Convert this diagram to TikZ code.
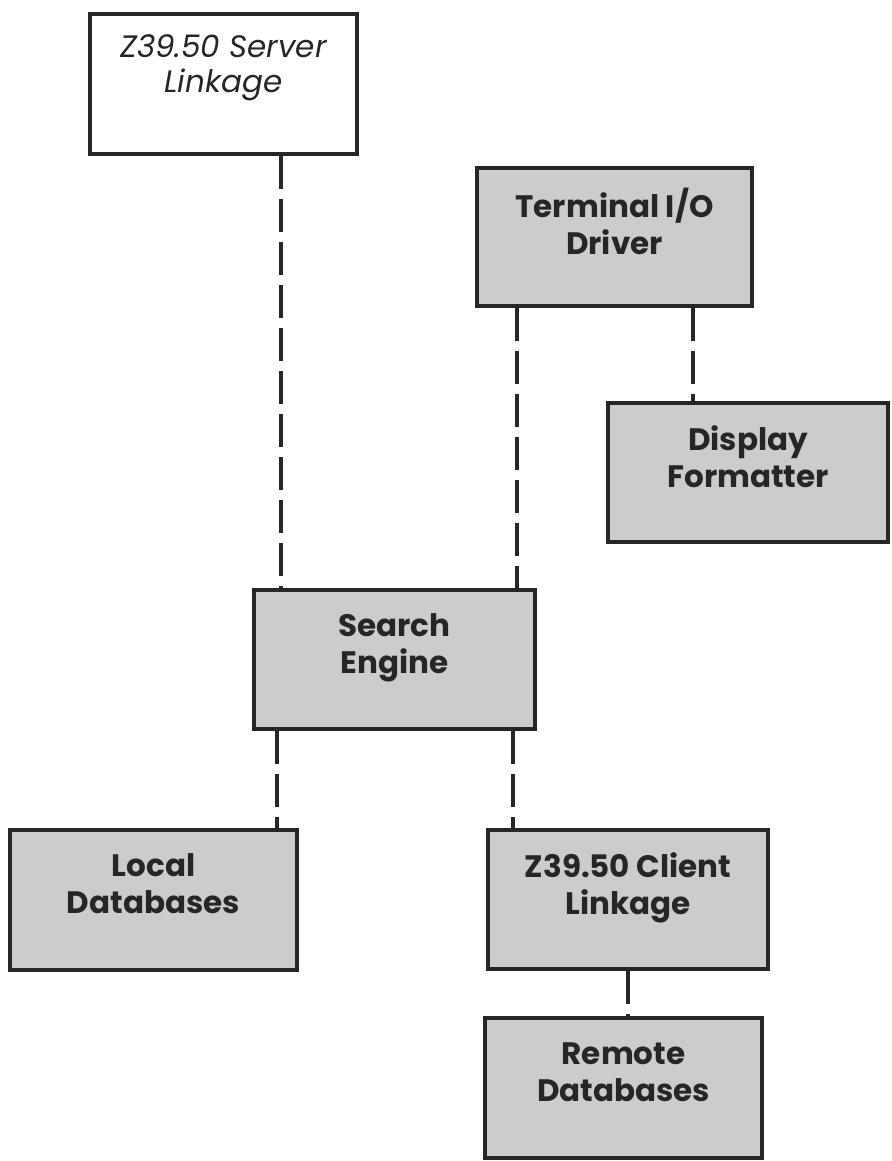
\documentclass[tikz,border=0pt]{standalone}
\usepackage{fontspec}
\setmainfont{Poppins}
\usepackage{tikz}
\pgfdeclarelayer{edgelayer}
\pgfdeclarelayer{nodelayer}
\pgfsetlayers{edgelayer,nodelayer,main}
\definecolor{ink}{gray}{0.15}
\definecolor{screen}{gray}{0.8}
\tikzstyle{none}=[inner sep=0pt]
\tikzstyle{module}=[rectangle, draw=ink, line width=3.5pt, text=ink, align=center, minimum width=275pt, minimum height=139pt, text depth=32pt]
\tikzstyle{plain module}=[module, fill=white, text depth=40pt, font=\itshape\fontsize{31}{35}\selectfont]
\tikzstyle{shaded module}=[module, fill=screen, font=\bfseries\fontsize{31}{37}\selectfont]
\tikzstyle{link}=[draw=ink, line width=3.5pt, dash pattern=on 33pt off 10pt]

\begin{document}
\begin{tikzpicture}[x=1pt, y=-1pt]
			\useasboundingbox (0, 0) rectangle (891, 1161);
			\begin{pgfonlayer}{nodelayer}
			\node [style=plain module, minimum width=267pt, minimum height=140pt] (0) at (223.5, 84) {Z39.50 Server\\Linkage};
			\node [style=shaded module, minimum height=138pt] (1) at (614.5, 237) {Terminal I/O\\Driver};
			\node [style=shaded module, minimum width=280pt] (2) at (748, 472.5) {Display\\Formatter};
			\node [style=shaded module, minimum width=281pt] (3) at (394.5, 659.5) {Search\\Engine};
			\node [style=shaded module, minimum width=287pt, minimum height=140pt] (4) at (153.5, 900) {Local\\Databases};
			\node [style=shaded module, minimum width=280pt] (5) at (628, 899.5) {Z39.50 Client\\Linkage};
			\node [style=shaded module, minimum width=277pt, minimum height=140pt] (6) at (623.5, 1088) {Remote\\Databases};
			\node [style=none] (10) at (281, 370) {};
			\node [style=none] (11) at (517, 450) {};
			\node [style=none] (12) at (693, 355) {};
			\node [style=none] (13) at (277, 780) {};
			\node [style=none] (14) at (513, 780) {};
			\node [style=none] (15) at (628, 995) {};
			\end{pgfonlayer}
			\begin{pgfonlayer}{edgelayer}
			\draw [style=link] (10 |- 0.south) to (10 |- 3.north);
			\draw [style=link] (11 |- 1.south) to (11 |- 3.north);
			\draw [style=link] (12 |- 1.south) to (12 |- 2.north);
			\draw [style=link] (13 |- 3.south) to (13 |- 4.north);
			\draw [style=link] (14 |- 3.south) to (14 |- 5.north);
			\draw [style=link] (15 |- 5.south) to (15 |- 6.north);
			\end{pgfonlayer}
\end{tikzpicture}
\end{document}
